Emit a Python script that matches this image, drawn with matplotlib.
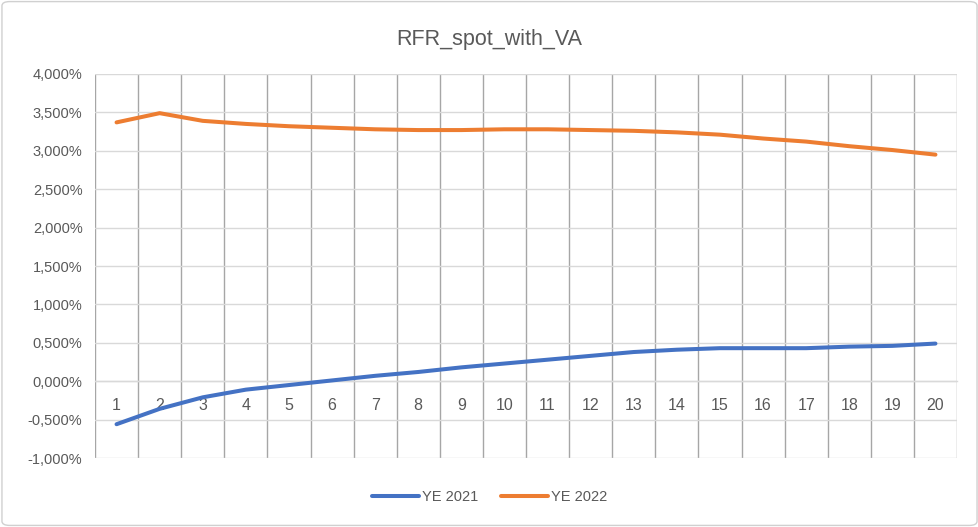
import matplotlib
matplotlib.use("Agg")
import matplotlib.pyplot as plt
from matplotlib.patches import FancyBboxPatch
from matplotlib.ticker import FuncFormatter, MultipleLocator
import numpy as np

# data
years = list(range(1, 21))
ye_2021 = [-0.56, -0.36, -0.21, -0.11, -0.05, 0.01, 0.07, 0.12, 0.18, 0.23,
           0.28, 0.33, 0.38, 0.41, 0.43, 0.43, 0.43, 0.45, 0.46, 0.49]
ye_2022 = [3.37, 3.49, 3.39, 3.35, 3.32, 3.30, 3.28, 3.27, 3.27, 3.28,
           3.28, 3.27, 3.26, 3.24, 3.21, 3.16, 3.12, 3.06, 3.01, 2.95]
series_names = ["YE 2021", "YE 2022"]
colors = ["#4472C4", "#ED7D31"]

plt.rcParams["font.family"] = ["Liberation Sans", "DejaVu Sans"]
text_col = "#595959"

fig = plt.figure(figsize=(9.79, 5.27), dpi=100)
ax = fig.add_axes([95 / 979, 69 / 527, 862 / 979, 384 / 527])

# outer chart border
border = FancyBboxPatch((0.002, 0.003), 0.996, 0.994, boxstyle="round,pad=0,rounding_size=0.008",
                        transform=fig.transFigure, fill=False, edgecolor="#d0d0d0", linewidth=1)
fig.patches.append(border)

for vals, name, c in zip([ye_2021, ye_2022], series_names, colors):
    ax.plot(years, vals, color=c, linewidth=2.9, label=name, solid_capstyle="round", zorder=3)

ax.set_xlim(0.5, 20.5)
ax.set_ylim(-1.0, 4.0)
ax.yaxis.set_major_locator(MultipleLocator(0.5))
ax.yaxis.set_major_formatter(FuncFormatter(lambda v, p: f"{v:.3f}%".replace(".", ",")))
ax.set_xticks(years)
ax.set_xticks(np.arange(0.5, 21, 1), minor=True)

# grids: light horizontal, darker vertical between categories
ax.grid(axis="y", which="major", color="#d9d9d9", linewidth=1)
ax.grid(axis="x", which="minor", color="#a6a6a6", linewidth=1)
ax.grid(axis="x", which="major", visible=False)
ax.set_axisbelow(True)

for side in ["top", "right", "left"]:
    ax.spines[side].set_visible(False)
ax.spines["bottom"].set_position(("data", 0))
ax.spines["bottom"].set_color("#d9d9d9")
ax.spines["bottom"].set_linewidth(1)

ax.tick_params(axis="x", which="both", length=0, pad=12, labelsize=11.5, labelcolor=text_col)
ax.tick_params(axis="y", length=0, pad=9, labelsize=10.5, labelcolor=text_col)

fig.text(0.5, 1 - 40 / 527, "RFR_spot_with_VA", fontsize=15.5, color=text_col,
         ha="center", va="center")

handles, labels = ax.get_legend_handles_labels()
leg = fig.legend(handles, labels, loc="center", bbox_to_anchor=(0.5, 1 - 497 / 527), ncol=2,
                 frameon=False, fontsize=10.5, handlelength=3.2, handletextpad=0.2,
                 columnspacing=1.6)
for t in leg.get_texts():
    t.set_color(text_col)

fig.savefig("out.png", dpi=100)
